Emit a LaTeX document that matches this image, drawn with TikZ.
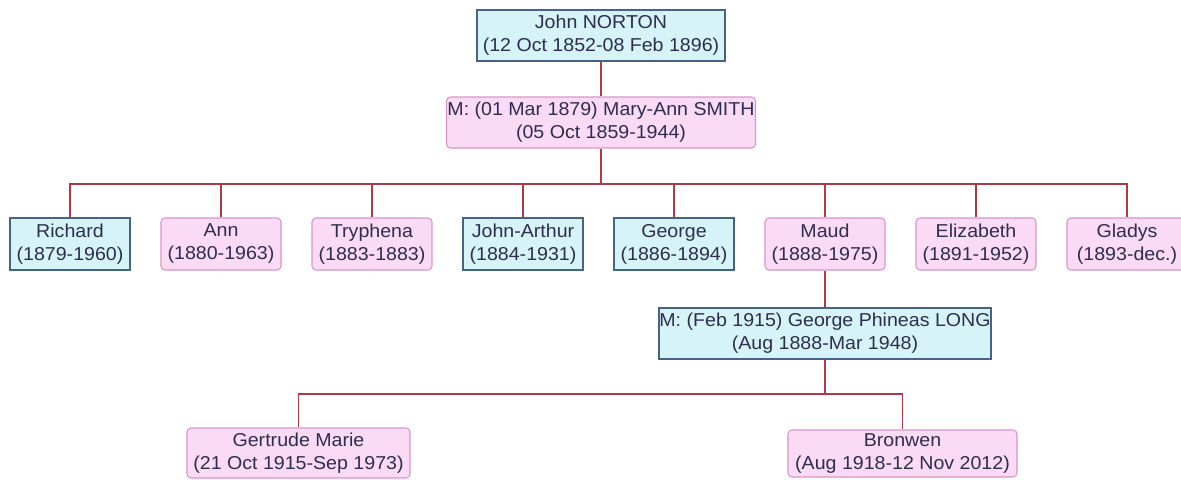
\documentclass[tikz,border=0pt]{standalone}
\usepackage{fontspec}
\setmainfont{Liberation Sans}[FakeStretch=1.05]

\definecolor{malefill}{RGB}{214,243,248}
\definecolor{maleline}{RGB}{70,100,130}
\definecolor{femfill}{RGB}{250,218,244}
\definecolor{femline}{RGB}{215,150,200}
\definecolor{linkred}{RGB}{170,60,72}
\definecolor{inktext}{RGB}{45,45,80}

\tikzset{
  person/.style={align=center, text=inktext, inner sep=0pt,
    font=\fontsize{14}{17.25}\selectfont},
  male/.style={person, draw=maleline, fill=malefill, line width=0.8pt},
  female/.style={person, draw=femline, fill=femfill, rounded corners=3pt, line width=0.8pt},
  link/.style={draw=linkred, line width=1.1pt},
}

\begin{document}
\begin{tikzpicture}[x=0.75pt, y=-0.75pt]
  \useasboundingbox (0,0) rectangle (1181,479);

  % parents
  \node[male, minimum width=186pt, minimum height=38.25pt] (john) at (601,35.5)
    {John NORTON\\(12 Oct 1852-08 Feb 1896)};
  \node[female, minimum width=231.75pt, minimum height=38.25pt] (mary) at (601,122.5)
    {M: (01 Mar 1879) Mary-Ann SMITH\\(05 Oct 1859-1944)};
  \draw[link] (john) -- (mary);

  % children
  \coordinate (bar) at (601,184);
  \foreach \name/\years/\sex [count=\i from 0] in {
      Richard/1879-1960/male, Ann/1880-1963/female, Tryphena/1883-1883/female,
      John-Arthur/1884-1931/male, George/1886-1894/male, Maud/1888-1975/female,
      Elizabeth/1891-1952/female, Gladys/1893-dec./female} {
    \node[\sex, minimum width=90pt, minimum height=39pt] (c\i) at ({70+151*\i},244)
      {\name\\(\years)};
    \draw[link] (c\i.north) |- (bar);
  }
  \draw[link] (mary) -- (bar);

  % Maud's marriage
  \node[male, minimum width=249pt, minimum height=38.25pt] (long) at (825,333.5)
    {M: (Feb 1915) George Phineas LONG\\(Aug 1888-Mar 1948)};
  \draw[link] (c5) -- (long);

  % grandchildren
  \coordinate (bar2) at (825,394);
  \node[female, minimum width=167.25pt, minimum height=37.5pt] (gert) at (298.5,453)
    {Gertrude Marie\\(21 Oct 1915-Sep 1973)};
  \node[female, minimum width=171.75pt, minimum height=35.25pt] (bron) at (902.5,453.5)
    {Bronwen\\(Aug 1918-12 Nov 2012)};
  \draw[link] (long) -- (bar2);
  \draw[link] (gert.north) |- (bar2);
  \draw[link] (bron.north) |- (bar2);
\end{tikzpicture}
\end{document}
